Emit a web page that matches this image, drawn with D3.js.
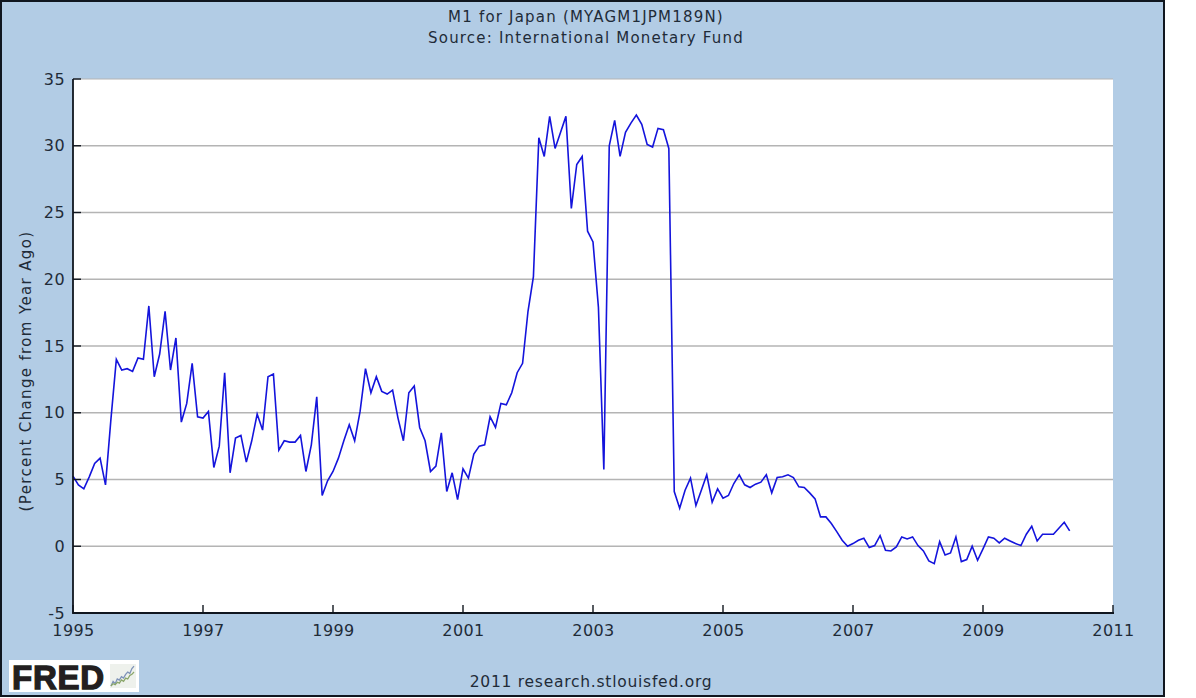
<!DOCTYPE html>
<html><head><meta charset="utf-8">
<script src="https://cdn.jsdelivr.net/npm/d3@7/dist/d3.min.js"></script>
<style>html,body{margin:0;padding:0;background:#fff}svg{display:block}text{font-family:"DejaVu Sans",sans-serif;fill:#1f2b38}</style>
</head><body><div id="chart"></div>
<script>
const titleLines = ["M1 for Japan (MYAGM1JPM189N)", "Source: International Monetary Fund"];
const yAxisLabel = "(Percent Change from Year Ago)";
const creditText = "2011 research.stlouisfed.org";
const logoText = "FRED";
const yTicks = [-5,0,5,10,15,20,25,30,35];
const xTicks = [1995,1997,1999,2001,2003,2005,2007,2009,2011];
const startYear = 1995;
const values = [
5.25,4.6,4.3,5.2,6.2,6.6,4.6,9.5,14.0,13.2,13.3,13.1,
14.1,14.0,18.0,12.7,14.4,17.6,13.2,15.6,9.3,10.7,13.7,9.7,
9.6,10.1,5.9,7.5,13.0,5.5,8.1,8.3,6.3,7.9,9.9,8.7,
12.7,12.9,7.2,7.9,7.8,7.8,8.3,5.6,7.6,11.2,3.8,4.9,
5.6,6.6,7.9,9.1,7.9,10.1,13.3,11.5,12.7,11.6,11.4,11.7,
9.6,7.9,11.5,12.0,8.9,7.9,5.6,6.0,8.5,4.1,5.5,3.5,
5.8,5.1,6.9,7.5,7.6,9.7,8.9,10.7,10.6,11.5,13.0,13.7,
17.6,20.2,30.6,29.2,32.2,29.8,31.0,32.2,25.3,28.6,29.2,23.6,
22.8,17.9,5.75,30.0,31.9,29.2,31.0,31.7,32.3,31.6,30.1,29.9,
31.3,31.2,29.8,4.1,2.85,4.2,5.1,3.05,4.2,5.35,3.3,4.3,
3.6,3.8,4.7,5.35,4.6,4.4,4.65,4.8,5.35,4.0,5.15,5.2,
5.35,5.15,4.45,4.4,4.0,3.55,2.2,2.2,1.7,1.1,0.45,0.0,
0.2,0.45,0.6,-0.1,0.05,0.8,-0.3,-0.35,-0.05,0.7,0.55,0.7,
0.05,-0.35,-1.1,-1.3,0.35,-0.65,-0.5,0.7,-1.15,-1.0,0.0,-1.05,
-0.2,0.7,0.6,0.25,0.6,0.4,0.2,0.05,0.9,1.5,0.4,0.9,
0.9,0.9,1.35,1.8,1.15];
const iconSeriesA = [0,2,1,3,2.5,4,3.4,5,6,5.4,7.5,8.5];
const iconSeriesB = [0,1,0.6,1.6,1.2,2.6,2,3.4,3,4.5,5,6];

const W=1196,H=698,L=73,R=1113,T=79,B=613;
const svg=d3.select("#chart").append("svg").attr("width",W).attr("height",H);
svg.append("rect").attr("width",W).attr("height",H).attr("fill","#fff");
svg.append("rect").attr("x",1).attr("y",1).attr("width",1163).attr("height",695)
   .attr("fill","#b2cce5").attr("stroke","#10161f").attr("stroke-width",2);
svg.append("rect").attr("x",L).attr("y",T).attr("width",R-L).attr("height",B-T).attr("fill","#fff");

const x=d3.scaleLinear().domain([1995,2011]).range([L,R]);
const y=d3.scaleLinear().domain([-5,35]).range([B,T]);

svg.append("g").attr("class","grid").selectAll("line").data(yTicks.filter(d=>d>-5)).join("line")
  .attr("x1",L).attr("x2",R).attr("y1",d=>y(d)).attr("y2",d=>y(d))
  .attr("stroke","#b4b4b4").attr("stroke-width",d=>d===35?1:1.6);

const line=d3.line().x((d,i)=>x(startYear+i/12)).y(d=>y(d));
svg.append("path").datum(values).attr("d",line).attr("fill","none")
  .attr("stroke","#1414dc").attr("stroke-width",1.6).attr("stroke-linejoin","miter");

const gy=svg.append("g").attr("transform",`translate(${L},0)`)
  .call(d3.axisLeft(y).tickValues(yTicks).tickFormat(d3.format("-d")).tickFormat(d=>String(d)).tickSize(0).tickPadding(8));
gy.select(".domain").remove();
gy.selectAll("text").attr("font-size",16).style("letter-spacing","0.4px").attr("font-family","DejaVu Sans");
svg.append("g").selectAll("line").data(yTicks).join("line")
  .attr("x1",L).attr("x2",L+8).attr("y1",d=>y(d)).attr("y2",d=>y(d)).attr("stroke","#10161f").attr("stroke-width",1.4);

const gx=svg.append("g").attr("transform",`translate(0,${B})`)
  .call(d3.axisBottom(x).tickValues(xTicks).tickFormat(d=>String(d)).tickSize(0).tickPadding(12));
gx.select(".domain").remove();
gx.selectAll("text").attr("font-size",16).style("letter-spacing","0.4px").attr("font-family","DejaVu Sans");
svg.append("g").selectAll("line").data(xTicks).join("line")
  .attr("y1",B).attr("y2",B-8).attr("x1",d=>x(d)).attr("x2",d=>x(d)).attr("stroke","#10161f").attr("stroke-width",1.4);

svg.append("line").attr("x1",L).attr("x2",L).attr("y1",T).attr("y2",B+1).attr("stroke","#10161f").attr("stroke-width",1.8);
svg.append("line").attr("x1",L).attr("x2",R+1).attr("y1",B).attr("y2",B).attr("stroke","#10161f").attr("stroke-width",1.8);

svg.append("g").selectAll("text").data(titleLines).join("text")
  .attr("x",586).attr("y",(d,i)=>22+i*21).attr("text-anchor","middle").attr("font-size",15).style("letter-spacing","1.2px").text(d=>d);
svg.append("text").attr("transform","translate(31,371) rotate(-90)").attr("text-anchor","middle").attr("font-size",15).style("letter-spacing","1.35px").text(yAxisLabel);
svg.append("text").attr("x",591).attr("y",687).attr("text-anchor","middle").attr("font-size",15.5).style("letter-spacing","0.75px").text(creditText);

const logo=svg.append("g");
logo.append("rect").attr("x",9).attr("y",660).attr("width",130).attr("height",32).attr("fill","#fff");
logo.append("text").attr("x",12).attr("y",689).attr("font-size",33).attr("font-weight",700)
  .style("font-family","'Liberation Sans',sans-serif").style("fill","#231f20").attr("stroke","#231f20").attr("stroke-width",1.3).attr("textLength",92).text(logoText);
const ix=d3.scaleLinear().domain([0,11]).range([111,134]);
const iy=d3.scaleLinear().domain([0,9]).range([686,665]);
logo.append("rect").attr("x",110).attr("y",664).attr("width",26).attr("height",24).attr("fill","#eef1ec");
const il=d3.line().x((d,i)=>ix(i)).y(d=>iy(d));
logo.append("path").attr("d",il(iconSeriesA)).attr("fill","none").attr("stroke","#7f93b8").attr("stroke-width",1.3);
logo.append("path").attr("d",il(iconSeriesB)).attr("fill","none").attr("stroke","#8aa66a").attr("stroke-width",1.3);
</script></body></html>
